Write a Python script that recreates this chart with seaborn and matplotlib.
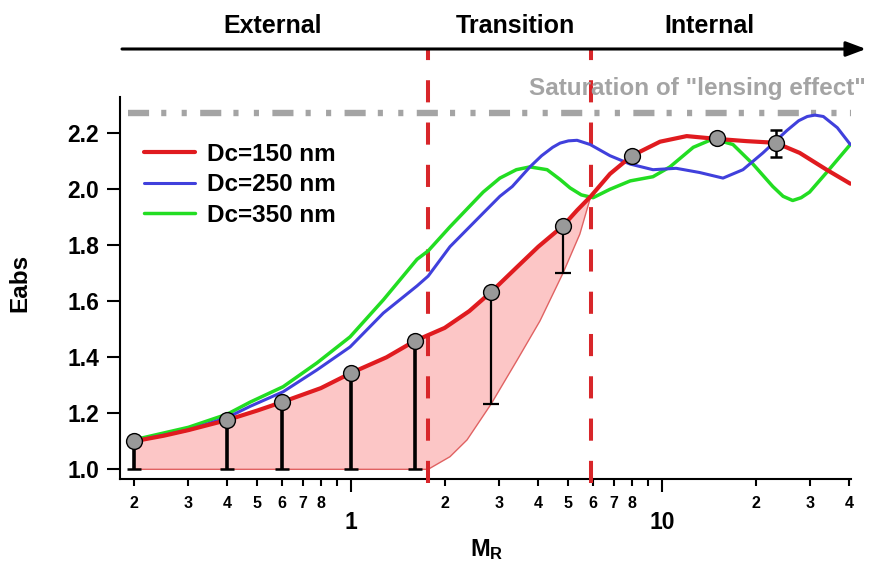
import numpy as np
import pandas as pd
import matplotlib
matplotlib.use("Agg")
import matplotlib.pyplot as plt
import seaborn as sns
from matplotlib.ticker import FixedLocator, FixedFormatter

# ---------------- data ----------------
red_x = [0.2, 0.25, 0.3, 0.4, 0.5, 0.6, 0.8, 1.0, 1.3, 1.6, 2.0, 2.4, 2.82, 3.4, 4.0,
         4.8, 5.33, 5.9, 6.8, 8.0, 9.85, 12.0, 15.0, 18.7, 23.2, 27.7, 33.8, 40.3]
red_y = [1.10, 1.12, 1.14, 1.176, 1.21, 1.24, 1.29, 1.344, 1.40, 1.458, 1.505, 1.565, 1.633,
         1.72, 1.795, 1.869, 1.925, 1.975, 2.055, 2.12, 2.17, 2.19, 2.18, 2.172, 2.166,
         2.13, 2.07, 2.02]

blue_x = [0.2, 0.3, 0.4, 0.474, 0.605, 0.777, 0.993, 1.27, 1.63, 1.77, 2.08, 2.66, 3.01,
          3.3, 3.76, 4.1, 4.45, 4.70, 5.0, 5.33, 5.87, 6.8, 7.9, 9.35, 11.1, 13.2, 15.7,
          18.2, 21.1, 25.2, 27.5, 29.3, 31.0, 33.0, 36.6, 40.3]
blue_y = [1.10, 1.14, 1.185, 1.225, 1.277, 1.355, 1.437, 1.558, 1.655, 1.69, 1.795, 1.915,
          1.975, 2.01, 2.08, 2.12, 2.15, 2.165, 2.173, 2.175, 2.16, 2.12, 2.09, 2.07, 2.075,
          2.06, 2.04, 2.07, 2.13, 2.21, 2.245, 2.26, 2.265, 2.26, 2.22, 2.16]

green_x = [0.2, 0.3, 0.4, 0.474, 0.605, 0.777, 0.993, 1.27, 1.63, 1.77, 2.08, 2.66, 3.01,
           3.4, 3.76, 4.27, 4.70, 5.06, 5.5, 6.0, 6.8, 7.9, 9.35, 10.6, 12.6, 14.6, 16.9,
           19.6, 22.7, 24.5, 26.3, 28.0, 29.8, 33.8, 40.3]
green_y = [1.105, 1.15, 1.197, 1.24, 1.295, 1.38, 1.473, 1.605, 1.75, 1.78, 1.866, 1.99,
           2.04, 2.07, 2.08, 2.07, 2.035, 2.005, 1.98, 1.97, 2.00, 2.03, 2.045, 2.08, 2.15,
           2.18, 2.16, 2.09, 2.01, 1.975, 1.96, 1.97, 1.99, 2.06, 2.16]

# lower boundary of the shaded band
band_low_x = [0.2, 1.77, 2.08, 2.36, 2.82, 3.42, 4.05, 4.8, 5.44, 5.9]
band_low_y = [1.0, 1.0, 1.045, 1.105, 1.233, 1.39, 1.53, 1.70, 1.84, 1.975]

# measured points
pt_x = [0.2, 0.4, 0.6, 1.0, 1.6, 2.82, 4.8, 8.0, 15.0, 23.3]
pt_y = [1.10, 1.176, 1.24, 1.344, 1.458, 1.633, 1.869, 2.12, 2.182, 2.166]
err_lo = [0.10, 0.176, 0.24, 0.344, 0.458, 0.40, 0.169, 0.0, 0.0, 0.05]
err_hi = [0.0, 0.0, 0.0, 0.0, 0.0, 0.0, 0.0, 0.0, 0.0, 0.046]

series_labels = ["Dc=150 nm", "Dc=250 nm", "Dc=350 nm"]
regime_labels = ["External", "Transition", "Internal"]
regime_bounds = [1.77, 5.91]
saturation_level = 2.272
saturation_text = 'Saturation of "lensing effect"'
y_ticks = [1.0, 1.2, 1.4, 1.6, 1.8, 2.0, 2.2]
x_major = [1, 10]
x_major_labels = ["1", "10"]
x_minor = [0.2, 0.3, 0.4, 0.5, 0.6, 0.7, 0.8, 0.9, 2, 3, 4, 5, 6, 7, 8, 9, 20, 30, 40]
x_minor_labels = ["2", "3", "4", "5", "6", "7", "8", "", "2", "3", "4", "5", "6", "7", "8",
                  "", "2", "3", "4"]

# ---------------- style ----------------
sns.set_style("ticks")
plt.rcParams["font.family"] = ["Liberation Sans", "DejaVu Sans"]
plt.rcParams["font.weight"] = "bold"
plt.rcParams["text.color"] = "black"
plt.rcParams["axes.labelcolor"] = "black"
plt.rcParams["xtick.color"] = "black"
plt.rcParams["ytick.color"] = "black"
plt.rcParams["axes.edgecolor"] = "black"
plt.rcParams["mathtext.fontset"] = "custom"
plt.rcParams["mathtext.bf"] = "Liberation Sans:bold"
plt.rcParams["mathtext.rm"] = "Liberation Sans:bold"
plt.rcParams["mathtext.it"] = "Liberation Sans:bold"

RED = "#e01b1f"
BLUE = "#4040dc"
GREEN = "#22dd22"
DRED = "#d8262a"
GRAY = "#a4a4a4"

W, H = 879, 569
fig = plt.figure(figsize=(W / 100, H / 100), dpi=100)
ax = fig.add_axes([120 / W, 90 / H, 731 / W, 439 / H])
ax.set_xscale("log")
ax.set_xlim(0.1808, 40.5)
ax.set_ylim(0.9654, 2.5332)

# shaded band
upper_x = [x for x in red_x if x <= 5.9]
upper_y = [y for x, y in zip(red_x, red_y) if x <= 5.9]
poly_x = upper_x + band_low_x[::-1]
poly_y = upper_y + band_low_y[::-1]
ax.fill(poly_x, poly_y, color="#fcc6c6", lw=0, zorder=1)
ax.plot(band_low_x, band_low_y, color="#e06262", lw=1.0, zorder=2)

# regime boundaries
for xb in regime_bounds:
    ax.plot([xb, xb], [0.951, 2.505], color=DRED, lw=2.9, ls=(0, (5.5, 5.0)),
            clip_on=False, zorder=3)

# saturation line
ax.plot([0.1923, 40.5], [saturation_level, saturation_level], color=GRAY, lw=4.6,
        ls=(0, (3.3, 1.9, 0.8, 2.4, 0.8, 2.1)), clip_on=False, zorder=2)

# curves
df = pd.concat([
    pd.DataFrame({"MR": red_x, "Eabs": red_y, "s": series_labels[0]}),
    pd.DataFrame({"MR": blue_x, "Eabs": blue_y, "s": series_labels[1]}),
    pd.DataFrame({"MR": green_x, "Eabs": green_y, "s": series_labels[2]}),
])
widths = {series_labels[0]: 3.0, series_labels[1]: 2.2, series_labels[2]: 2.5}
colors = {series_labels[0]: RED, series_labels[1]: BLUE, series_labels[2]: GREEN}
for lab in [series_labels[2], series_labels[1], series_labels[0]]:
    sub = df[df["s"] == lab]
    sns.lineplot(data=sub, x="MR", y="Eabs", color=colors[lab], lw=widths[lab],
                 sort=False, estimator=None, ax=ax, zorder=5, label=lab,
                 solid_joinstyle="round", solid_capstyle="round")

# error bars
thick = slice(0, 5)
ax.errorbar(pt_x[thick], pt_y[thick], yerr=[err_lo[thick], err_hi[thick]], fmt="none",
            ecolor="black", elinewidth=2.6, capsize=5, capthick=1.8, zorder=6)
ax.errorbar(pt_x[5:7], pt_y[5:7], yerr=[err_lo[5:7], err_hi[5:7]], fmt="none",
            ecolor="black", elinewidth=1.6, capsize=5.5, capthick=1.6, zorder=6)
ax.errorbar(pt_x[9:], pt_y[9:], yerr=[err_lo[9:], err_hi[9:]], fmt="none",
            ecolor="black", elinewidth=1.8, capsize=4.5, capthick=1.8, zorder=6)

sns.scatterplot(x=pt_x, y=pt_y, ax=ax, s=130, color="#999999", edgecolor="black",
                linewidth=1.0, zorder=7, legend=False)

# legend
hl, ll = ax.get_legend_handles_labels()
order = [ll.index(l) for l in series_labels]
leg = ax.legend([hl[i] for i in order], [ll[i] for i in order], loc="upper left",
                bbox_to_anchor=((144 - 120) / 731, (479 - 143) / 439), frameon=False,
                borderpad=0, borderaxespad=0, handlelength=2.1, handletextpad=0.5,
                labelspacing=0.3, prop={"size": 17.5, "weight": "bold"})
for t in leg.get_texts():
    t.set_color("black")

# axes styling
for s in ["top", "right"]:
    ax.spines[s].set_visible(False)
ax.spines["left"].set_linewidth(1.5)
ax.spines["bottom"].set_linewidth(1.5)
ax.spines["left"].set_bounds(0.9654, 2.33)

ax.set_yticks(y_ticks)
ax.set_yticklabels([f"{v:.1f}" for v in y_ticks])
ax.tick_params(axis="y", length=9.4, width=1.5, pad=5.5, labelsize=16.5, color="black",
               labelcolor="black")
ax.xaxis.set_major_locator(FixedLocator(x_major))
ax.xaxis.set_major_formatter(FixedFormatter(x_major_labels))
ax.xaxis.set_minor_locator(FixedLocator(x_minor))
ax.xaxis.set_minor_formatter(FixedFormatter(x_minor_labels))
ax.tick_params(axis="x", which="major", length=9.4, width=1.5, pad=13.5, labelsize=16.5,
               color="black", labelcolor="black")
ax.tick_params(axis="x", which="minor", length=5, width=1.5, pad=7, labelsize=11.5,
               color="black", labelcolor="black")
for t in ax.get_xticklabels(which="both") + ax.get_yticklabels():
    t.set_fontweight("bold")
ax.set_xlabel("")
ax.set_ylabel("")

fig.text(20 / W, 1 - 283 / H, "Eabs", rotation=90, ha="center", va="center",
         fontsize=17.5, fontweight="bold", color="black")
fig.text(487 / W, 1 - 550 / H, r"$\mathbf{M}_{\mathbf{R}}$", ha="center", va="center",
         fontsize=17, fontweight="bold", color="black")

# regime header
ax.annotate("", xy=(866, H - 49), xytext=(122, H - 49), xycoords="figure pixels",
            textcoords="figure pixels",
            arrowprops=dict(arrowstyle="-|>,head_length=1.2,head_width=0.45", lw=2.2,
                            color="black", shrinkA=0, shrinkB=0, mutation_scale=10))
for lab, xc in zip(regime_labels, [273, 515, 709]):
    fig.text(xc / W, 1 - 33 / H, lab, ha="center", va="baseline", fontsize=18,
             fontweight="bold", color="black")
fig.text(866 / W, 1 - 95 / H, saturation_text, ha="right", va="baseline", fontsize=17.5,
         fontweight="bold", color=GRAY)

fig.savefig("out.png", dpi=100)
